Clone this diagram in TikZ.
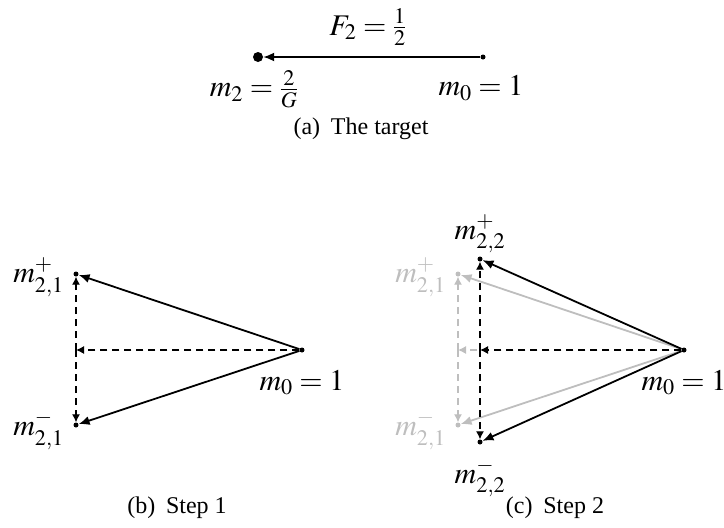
\documentclass[tikz,border=0pt]{standalone}
\usepackage{mathptmx}
\usepackage[no-math]{fontspec}
\setmainfont{Liberation Serif}
\usetikzlibrary{arrows.meta}
\definecolor{lightg}{RGB}{190,190,190}
\tikzset{
  dot/.style={circle,fill,inner sep=0pt,minimum size=5pt},
  bigdot/.style={circle,fill,inner sep=0pt,minimum size=10pt},
  lbl/.style={font=\fontsize{30}{36}\selectfont,inner sep=2pt},
  captxt/.style={font=\fontsize{24}{28}\selectfont,inner sep=0pt},
  arr/.style={-{Latex[length=11pt,width=9pt]},line width=1.8pt},
  dsh/.style={-{Latex[length=8pt,width=8pt]},line width=1.2pt,dash pattern=on 7pt off 5pt},
}
\begin{document}
\begin{tikzpicture}[x=1pt,y=-1pt]
\useasboundingbox (0,0) rectangle (724,528);
% ---------- (a)
\node[dot] (a0) at (483,57) {};
\node[bigdot] (a2) at (258,57) {};
\draw[arr] (a0) -- (a2);
\node[lbl] (aF) at (368,27) {$F_2=\frac{1}{2}$};
\node[lbl] (am2) at (254,89) {$m_2=\frac{2}{G}$};
\node[lbl] (am0) at (481,88) {$m_0=1$};
\node[captxt] (capa) at (361,129) {(a)\hspace{0.45em}The target};
% ---------- (b)
\node[dot] (b0) at (302,350) {};
\node[dot] (bt) at (76,274) {};
\node[dot] (bb) at (76,425) {};
\coordinate (bm) at (76,350);
\draw[arr] (b0) -- (bt);
\draw[arr] (b0) -- (bb);
\draw[dsh] (b0) -- (bm);
\draw[dsh] (bm) -- (bt);
\draw[dsh] (bm) -- (bb);
\node[lbl,anchor=east] (lbt) at ([xshift=-10pt,yshift=-3pt]bt.center) {$m^+_{2,1}$};
\node[lbl,anchor=east] (lbb) at ([xshift=-10pt,yshift=-5pt]bb.center) {$m^-_{2,1}$};
\node[lbl,anchor=north] (lb0) at ([yshift=-18pt]b0.center) {$m_0=1$};
\node[captxt] (capb) at (177,508) {(b)\hspace{0.45em}Step 1};
% ---------- (c)
\node[dot] (c0) at (684,350) {};
\node[dot,fill=lightg] (cgt) at (458,274) {};
\node[dot,fill=lightg] (cgb) at (458,425) {};
\coordinate (cgm) at (458,350);
\draw[arr,lightg] (c0) -- (cgt);
\draw[arr,lightg] (c0) -- (cgb);
\draw[dsh,lightg] (c0) -- (cgm);
\draw[dsh,lightg] (cgm) -- (cgt);
\draw[dsh,lightg] (cgm) -- (cgb);
\node[lbl,anchor=east,text=lightg] (lcgt) at ([xshift=-10pt,yshift=-3pt]cgt.center) {$m^+_{2,1}$};
\node[lbl,anchor=east,text=lightg] (lcgb) at ([xshift=-10pt,yshift=-5pt]cgb.center) {$m^-_{2,1}$};
\node[dot] (ct) at (480,259) {};
\node[dot] (cb) at (480,442) {};
\coordinate (cm) at (480,350);
\draw[arr] (c0) -- (ct);
\draw[arr] (c0) -- (cb);
\draw[dsh] (c0) -- (cm);
\draw[dsh] (cm) -- (ct);
\draw[dsh] (cm) -- (cb);
\node[lbl,anchor=south] (lct) at ([yshift=4pt]ct.center) {$m^+_{2,2}$};
\node[lbl,anchor=north] (lcb) at ([yshift=-14pt]cb.center) {$m^-_{2,2}$};
\node[lbl,anchor=north] (lc0) at ([yshift=-18pt]c0.center) {$m_0=1$};
\node[captxt] (capc) at (555,508) {(c)\hspace{0.45em}Step 2};
\end{tikzpicture}
\end{document}
